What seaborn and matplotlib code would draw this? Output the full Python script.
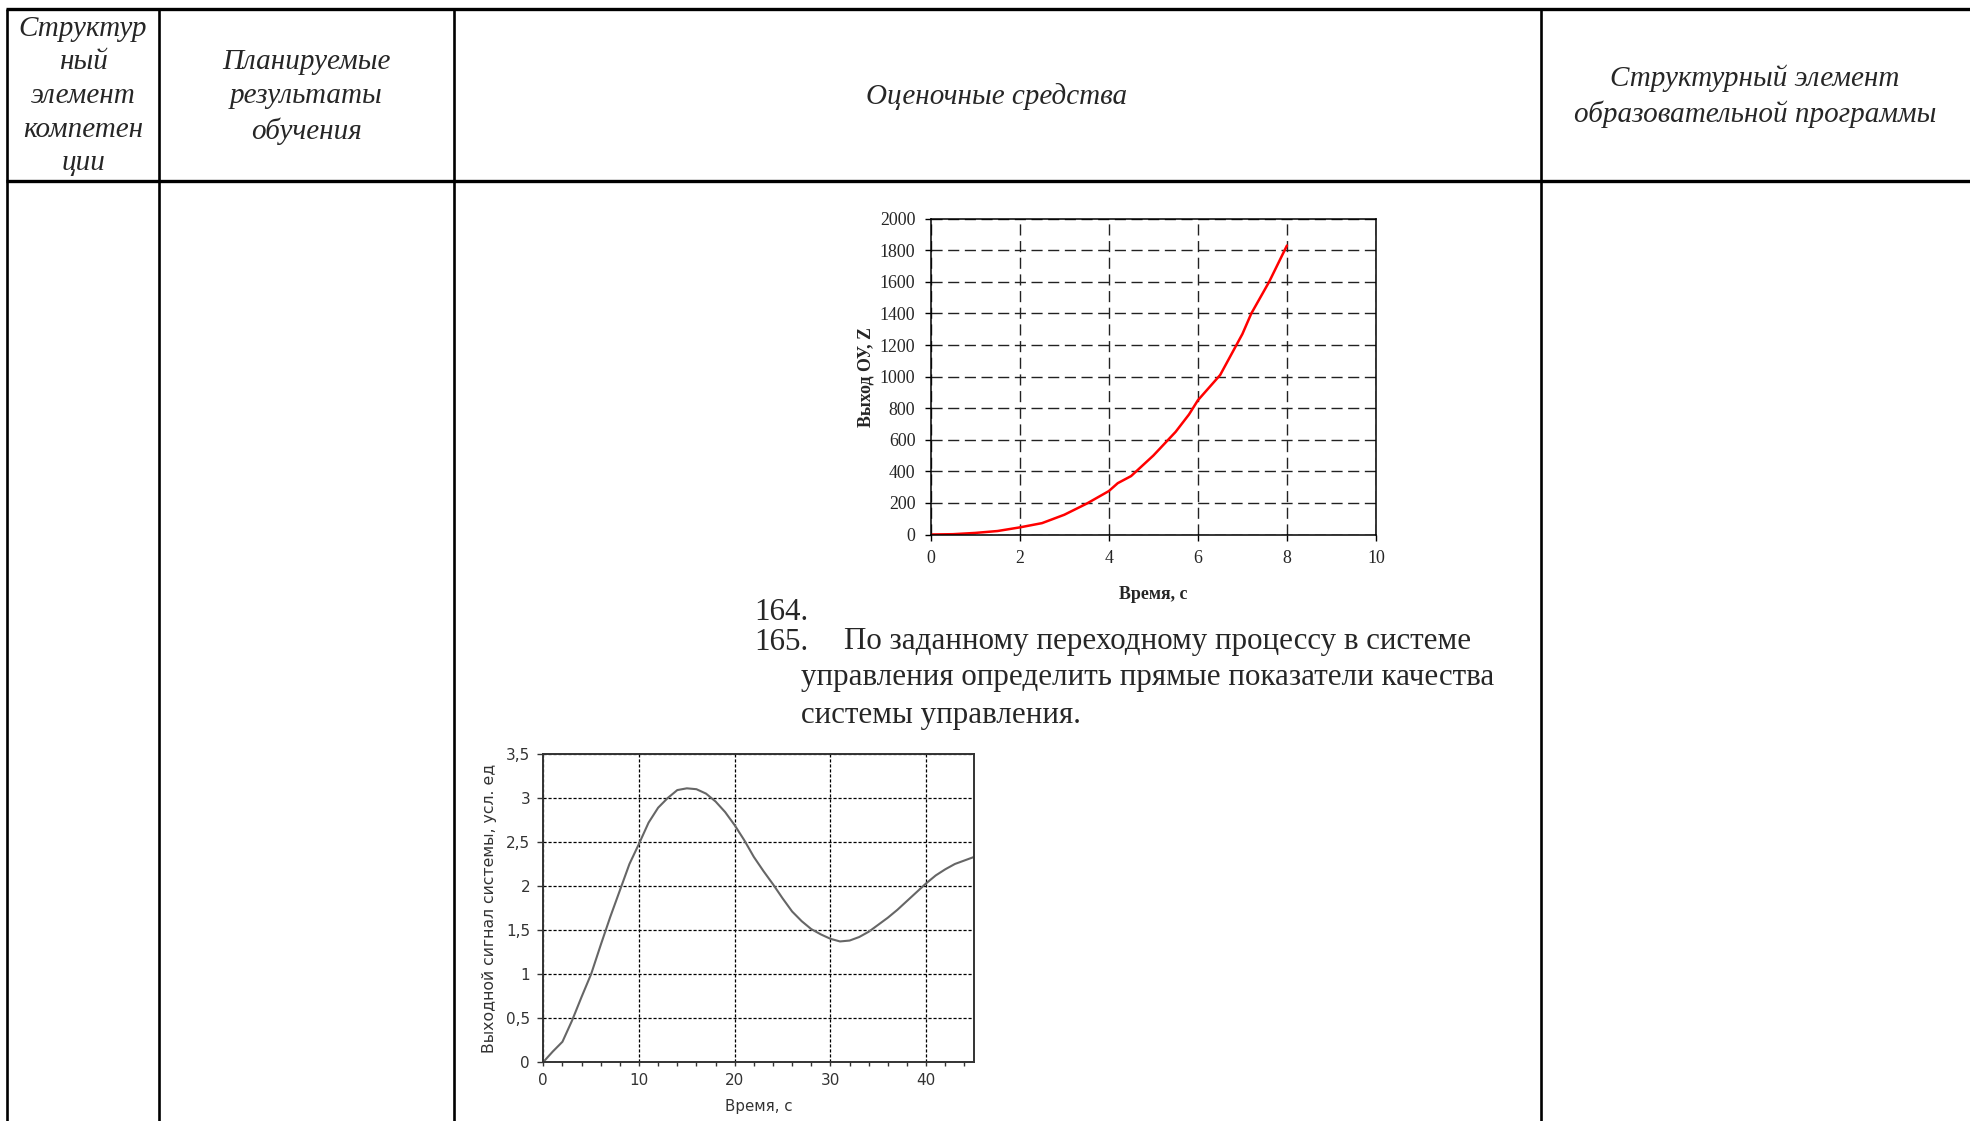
import matplotlib
matplotlib.use("Agg")
import pandas as pd
import seaborn as sns
from matplotlib import pyplot as plt
from matplotlib.ticker import FuncFormatter, MultipleLocator

# chart 1: output of the plant
time_1 = [0, 0.5, 1.0, 1.5, 2.0, 2.5, 3.0, 3.5, 4.0, 4.2, 4.5, 5.0, 5.5, 5.8, 6.0,
          6.5, 7.0, 7.2, 7.6, 8.0]
output_z = [0, 2, 10, 22, 45, 72, 125, 195, 275, 325, 370, 500, 650, 760, 850,
            1010, 1270, 1400, 1600, 1830]

# chart 2: transient response of the control system
time_2 = list(range(0, 46))
signal = [0, 0.12, 0.23, 0.47, 0.74, 1.0, 1.33, 1.65, 1.95, 2.25, 2.48, 2.72, 2.89,
          3.0, 3.09, 3.11, 3.10, 3.05, 2.96, 2.84, 2.69, 2.52, 2.33, 2.17, 2.02, 1.86,
          1.71, 1.60, 1.51, 1.45, 1.40, 1.37, 1.38, 1.42, 1.48, 1.56, 1.64, 1.73, 1.83,
          1.93, 2.03, 2.12, 2.19, 2.25, 2.29, 2.33]

header_cols = [
    "Структур\nный\nэлемент\nкомпетен\nции",
    "Планируемые\nрезультаты\nобучения",
    "Оценочные средства",
    "Структурный элемент\nобразовательной программы",
]
question_lines = [
    "164.",
    "165.",
    "По заданному переходному процессу в системе",
    "управления определить прямые показатели качества",
    "системы управления.",
]

W, H = 1970, 1121


def frac_box(x0, y0, x1, y1):
    return [x0 / W, 1 - y1 / H, (x1 - x0) / W, (y1 - y0) / H]


sns.set_style("white")
plt.rcParams["font.family"] = ["Liberation Serif", "DejaVu Serif"]

fig = plt.figure(figsize=(19.7, 11.21), dpi=100)

# page / table background
bg = fig.add_axes([0, 0, 1, 1])
bg.set_xlim(0, W)
bg.set_ylim(H, 0)
bg.axis("off")
for y in (9, 181):
    bg.plot([6, W], [y, y], color="black", linewidth=2.4, solid_capstyle="butt")
for x in (7, 159, 454, 1541):
    bg.plot([x, x], [9, H], color="black", linewidth=1.9, solid_capstyle="butt")

header_pos = [(83, 96), (306, 97), (997, 97), (1755, 96)]
for text, (x, y) in zip(header_cols, header_pos):
    bg.text(x, y, text, ha="center", va="center", fontsize=21, style="italic",
            linespacing=1.38, multialignment="center")

q_pos = [(754, 613), (754, 642), (844, 642), (801, 678), (801, 715)]
for text, (x, y) in zip(question_lines, q_pos):
    bg.text(x, y, text, ha="left", va="center", fontsize=22.3)

# chart 1
ax1 = fig.add_axes(frac_box(930.7, 218.7, 1376, 534.5))
df1 = pd.DataFrame({"t": time_1, "z": output_z})
sns.lineplot(data=df1, x="t", y="z", color="#ff0000", linewidth=1.8, ax=ax1)
ax1.set_xlim(0, 10)
ax1.set_ylim(0, 2000)
ax1.xaxis.set_major_locator(MultipleLocator(2))
ax1.yaxis.set_major_locator(MultipleLocator(200))
ax1.grid(True, color="#222222", linestyle=(0, (8, 4)), linewidth=1.0)
for s in ax1.spines.values():
    s.set_color("black")
    s.set_linewidth(1.1)
ax1.tick_params(axis="both", direction="out", length=4, width=1, color="black",
                labelsize=12.9, pad=7, left=True, bottom=True)
ax1.set_xlabel("Время, с", fontsize=12.9, fontweight="bold")
ax1.set_ylabel("Выход ОУ, Z", fontsize=12.9, fontweight="bold")
ax1.xaxis.set_label_coords(0.5, -0.163)
ax1.xaxis.label.set_va("top")
ax1.yaxis.set_label_coords(-0.127, 0.5)

# chart 2
ax2 = fig.add_axes(frac_box(543.3, 754, 974, 1062))
df2 = pd.DataFrame({"t": time_2, "y": signal})
sns.lineplot(data=df2, x="t", y="y", color="#666666", linewidth=1.5, ax=ax2)
ax2.set_xlim(0, 45)
ax2.set_ylim(0, 3.5)
ax2.xaxis.set_major_locator(MultipleLocator(10))
ax2.xaxis.set_minor_locator(MultipleLocator(2))
ax2.yaxis.set_major_locator(MultipleLocator(0.5))
ax2.yaxis.set_major_formatter(FuncFormatter(lambda v, p: f"{v:g}".replace(".", ",")))
ax2.grid(True, which="major", color="black", linestyle=(0, (2.5, 1.5)), linewidth=0.9)
for s in ax2.spines.values():
    s.set_color("#333333")
    s.set_linewidth(1.4)
ax2.tick_params(axis="y", direction="out", length=4.5, width=1, color="#333333",
                labelsize=11, labelcolor="#333333", pad=5, left=True)
ax2.tick_params(axis="x", which="both", direction="out", length=3, width=1,
                color="#333333", labelsize=11, labelcolor="#333333", pad=5, bottom=True)
for lbl in ax2.get_xticklabels() + ax2.get_yticklabels():
    lbl.set_family("DejaVu Sans")
ax2.set_xlabel("Время, с", fontsize=10.8, color="#333333", family="DejaVu Sans")
ax2.set_ylabel("Выходной сигнал системы, усл. ед", fontsize=11.3, color="#333333",
               family="DejaVu Sans")
ax2.xaxis.set_label_coords(0.5, -0.12)
ax2.xaxis.label.set_va("top")
ax2.yaxis.set_label_coords(-0.108, 0.5)

fig.savefig("out.png", dpi=100)
